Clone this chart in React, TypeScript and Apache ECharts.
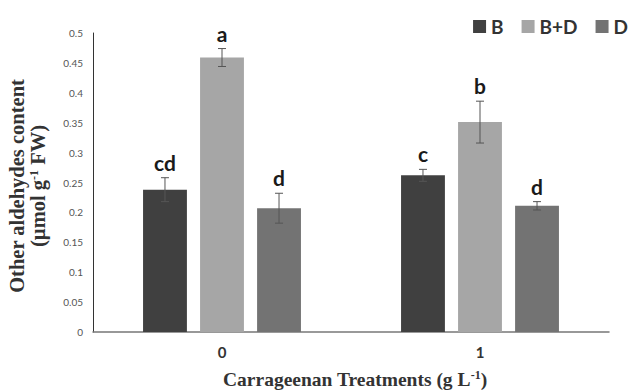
import React, { useEffect, useRef } from "react";
import * as echarts from "echarts";

const categories = ["0", "1"];
const seriesNames = ["B", "B+D", "D"];
const valuesB = [0.238, 0.262];
const valuesBD = [0.459, 0.351];
const valuesD = [0.207, 0.211];
const errB = [0.02, 0.01];
const errBD = [0.015, 0.035];
const errD = [0.025, 0.007];
const lettersB = ["cd", "c"];
const lettersBD = ["a", "b"];
const lettersD = ["d", "d"];
const colors = ["#404040", "#a6a6a6", "#737373"];

const BAR_W = 0.17;
const BAR_GAP = 0.3;

export default function App() {
  const ref = useRef<HTMLDivElement>(null);
  useEffect(() => {
    const chart = echarts.init(ref.current!, undefined, { renderer: "svg" });
    const values = [valuesB, valuesBD, valuesD];
    const errs = [errB, errBD, errD];
    const letters = [lettersB, lettersBD, lettersD];

    const barSeries = seriesNames.map((n, i) => ({
      name: n,
      type: "bar",
      data: values[i],
      barWidth: BAR_W * 100 + "%",
      barGap: BAR_GAP * 100 + "%",
      itemStyle: { color: colors[i] },
    }));

    const errData: number[][] = [];
    for (let s = 0; s < 3; s++) {
      for (let c = 0; c < categories.length; c++) {
        errData.push([c, values[s][c], errs[s][c], s]);
      }
    }

    const errSeries = {
      type: "custom",
      name: "err",
      data: errData,
      z: 10,
      renderItem: (params: any, api: any) => {
        const c = api.value(0);
        const v = api.value(1);
        const e = api.value(2);
        const s = api.value(3);
        const band = api.size([1, 0])[0];
        const off = band * BAR_W * (1 + BAR_GAP) * (s - 1);
        const top = api.coord([c, v + e]);
        const bot = api.coord([c, v - e]);
        const x = top[0] + off;
        const hw = 4;
        const st = { stroke: "#555", lineWidth: 1 };
        return {
          type: "group",
          children: [
            { type: "line", shape: { x1: x, y1: top[1], x2: x, y2: bot[1] }, style: st },
            { type: "line", shape: { x1: x - hw, y1: top[1], x2: x + hw, y2: top[1] }, style: st },
            { type: "line", shape: { x1: x - hw, y1: bot[1], x2: x + hw, y2: bot[1] }, style: st },
            {
              type: "text",
              x: x,
              y: top[1] - 5,
              style: {
                text: letters[s][c],
                align: "center",
                verticalAlign: "bottom",
                fontFamily: "Lato",
                fontWeight: "bold",
                fontSize: 21,
                fill: "#1a1a1a",
              },
            },
          ],
        };
      },
    };

    chart.setOption({
      animation: false,
      backgroundColor: "#fff",
      grid: { left: 93, right: 26, top: 33, bottom: 60 },
      legend: {
        data: seriesNames,
        right: 2,
        top: 12,
        icon: "rect",
        itemWidth: 13,
        itemHeight: 13,
        itemGap: 18,
        textStyle: { fontFamily: "Lato", fontWeight: "bold", fontSize: 19, color: "#333" },
      },
      xAxis: {
        type: "category",
        data: categories,
        axisLine: { lineStyle: { color: "#777", width: 1.5 } },
        axisTick: { show: false },
        axisLabel: { fontFamily: "Lato", fontWeight: "bold", fontSize: 15, color: "#333", margin: 12 },
      },
      yAxis: {
        type: "value",
        min: 0,
        max: 0.5,
        interval: 0.05,
        splitLine: { show: false },
        axisLine: { show: true, lineStyle: { color: "#333", width: 1 } },
        axisTick: { show: false },
        axisLabel: {
          fontFamily: "Lato",
          fontSize: 10,
          color: "#555",
          margin: 10,
          formatter: (v: number) => String(parseFloat(v.toFixed(2))),
        },
      },
      graphic: [
        {
          type: "text",
          x: 17,
          y: 186,
          rotation: Math.PI / 2,
          style: {
            text: "Other aldehydes content",
            align: "center",
            verticalAlign: "middle",
            fontFamily: "Liberation Serif",
            fontWeight: "bold",
            fontSize: 20.5,
            fill: "#333",
          },
        },
        {
          type: "text",
          x: 38,
          y: 186,
          rotation: Math.PI / 2,
          style: {
            text: "(µmol g{s|-1} FW)",
            rich: {
              s: { fontSize: 12, fontFamily: "Liberation Serif", fontWeight: "bold", verticalAlign: "top", fill: "#333" },
            },
            align: "center",
            verticalAlign: "middle",
            fontFamily: "Liberation Serif",
            fontWeight: "bold",
            fontSize: 20.5,
            fill: "#333",
          },
        },
        {
          type: "text",
          x: 355,
          y: 379,
          style: {
            text: "Carrageenan Treatments (g L{s|-1})",
            rich: {
              s: { fontSize: 12, fontFamily: "Liberation Serif", fontWeight: "bold", verticalAlign: "top", fill: "#333" },
            },
            align: "center",
            verticalAlign: "middle",
            fontFamily: "Liberation Serif",
            fontWeight: "bold",
            fontSize: 19.5,
            fill: "#333",
          },
        },
      ],
      series: [...barSeries, errSeries],
    });
    return () => chart.dispose();
  }, []);
  return <div ref={ref} style={{ width: 635, height: 392, position: "absolute", left: 0, top: 0 }} />;
}
